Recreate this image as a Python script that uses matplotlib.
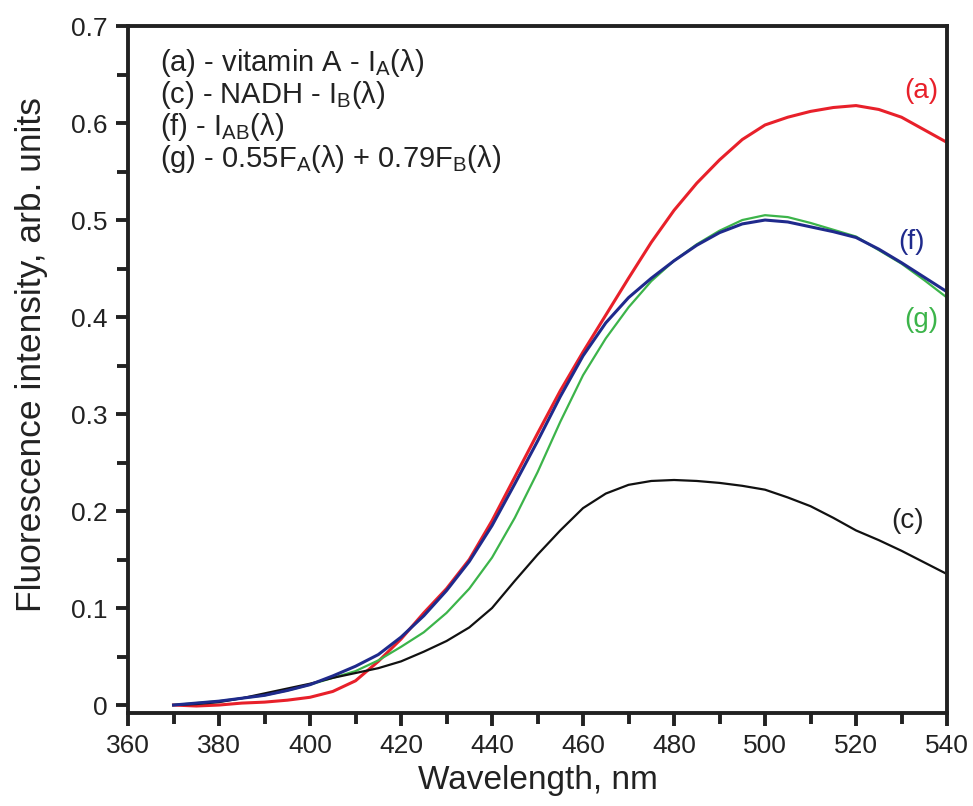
import numpy as np
import matplotlib.pyplot as plt
from matplotlib.ticker import MultipleLocator, FuncFormatter

plt.rcParams['font.family'] = ['Liberation Sans', 'DejaVu Sans']
plt.rcParams['mathtext.fontset'] = 'custom'
plt.rcParams['mathtext.rm'] = 'Liberation Sans'
plt.rcParams['mathtext.it'] = 'Liberation Sans'

# wavelength grid, nm (values every 5 nm)
wl = np.arange(370, 545, 5)

# (a) vitamin A
vit_a = [0.000, -0.001, 0.000, 0.002, 0.003, 0.005, 0.008, 0.014, 0.025, 0.045,
         0.068, 0.095, 0.120, 0.150, 0.190, 0.235, 0.280, 0.324, 0.364, 0.402,
         0.440, 0.477, 0.510, 0.538, 0.562, 0.583, 0.598, 0.606, 0.612, 0.616,
         0.618, 0.614, 0.606, 0.593, 0.580]
# (c) NADH
nadh = [0.000, 0.001, 0.003, 0.007, 0.012, 0.017, 0.022, 0.028, 0.033, 0.038,
        0.045, 0.055, 0.066, 0.080, 0.100, 0.128, 0.155, 0.180, 0.203, 0.218,
        0.227, 0.231, 0.232, 0.231, 0.229, 0.226, 0.222, 0.214, 0.205, 0.193,
        0.180, 0.170, 0.159, 0.147, 0.135]
# (f) mixture
mix_f = [0.000, 0.002, 0.004, 0.007, 0.010, 0.015, 0.021, 0.030, 0.040, 0.052,
         0.070, 0.092, 0.118, 0.148, 0.185, 0.228, 0.272, 0.318, 0.360, 0.394,
         0.420, 0.440, 0.458, 0.474, 0.487, 0.496, 0.500, 0.498, 0.493, 0.488,
         0.482, 0.470, 0.456, 0.441, 0.426]
# (g) 0.55 FA + 0.79 FB
fit_g = [0.000, 0.002, 0.004, 0.007, 0.010, 0.015, 0.021, 0.028, 0.035, 0.046,
         0.060, 0.075, 0.095, 0.120, 0.152, 0.193, 0.240, 0.292, 0.340, 0.378,
         0.410, 0.437, 0.458, 0.475, 0.489, 0.500, 0.505, 0.503, 0.497, 0.490,
         0.483, 0.469, 0.455, 0.438, 0.420]

fig = plt.figure(figsize=(9.73, 8.06), dpi=100)
ax = fig.add_axes([0.1316, 0.1154, 0.8417, 0.8523])

ax.plot(wl, vit_a, color='#e8202a', lw=2.2)
ax.plot(wl, fit_g, color='#3cb44a', lw=1.6)
ax.plot(wl, nadh, color='#111111', lw=1.6)
ax.plot(wl, mix_f, color='#1f2a8c', lw=2.2)

ax.set_xlim(360, 540)
ax.set_ylim(-0.0082, 0.7)

ax.xaxis.set_major_locator(MultipleLocator(20))
ax.xaxis.set_minor_locator(MultipleLocator(10))
ax.yaxis.set_major_locator(MultipleLocator(0.1))
ax.yaxis.set_minor_locator(MultipleLocator(0.05))
ax.yaxis.set_major_formatter(FuncFormatter(lambda v, p: '0' if abs(v) < 1e-9 else '%.1f' % v))

for s in ax.spines.values():
    s.set_linewidth(2.8)
    s.set_color('#222222')
ax.tick_params(which='both', direction='out', width=2.8, color='#222222',
               labelsize=19, labelcolor='#222222', pad=6)
ax.tick_params(which='major', length=9)
ax.tick_params(which='minor', length=8)

ax.set_xlabel('Wavelength, nm', fontsize=24, color='#222222', labelpad=5)
ax.set_ylabel('Fluorescence intensity, arb. units', fontsize=25.5, color='#222222')
ax.yaxis.set_label_coords(-0.098, 0.522)

# legend block
legend_lines = [r'(a) - vitamin A - I$_\mathrm{A}$($\lambda$)',
                r'(c) - NADH - I$_\mathrm{B}$($\lambda$)',
                r'(f) - I$_\mathrm{AB}$($\lambda$)',
                r'(g) - 0.55F$_\mathrm{A}$($\lambda$) + 0.79F$_\mathrm{B}$($\lambda$)']
for i, t in enumerate(legend_lines):
    ax.text(367, 0.662 - i * 0.0330, t, fontsize=21, va='center', color='#222222')

# curve labels
ax.text(538, 0.633, '(a)', color='#e8202a', fontsize=20, ha='right', va='center')
ax.text(535, 0.477, '(f)', color='#1f2a8c', fontsize=20, ha='right', va='center')
ax.text(538, 0.397, '(g)', color='#3cb44a', fontsize=20, ha='right', va='center')
ax.text(535, 0.190, '(c)', color='#222222', fontsize=20, ha='right', va='center')

fig.savefig('out.png', dpi=100)
